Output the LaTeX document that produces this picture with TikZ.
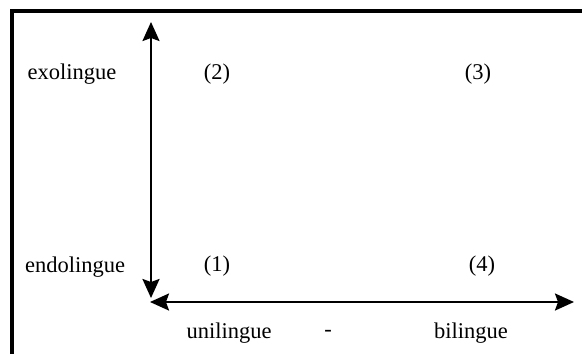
\documentclass[tikz,border=0pt]{standalone}
\usepackage{fontspec}
\setmainfont{Liberation Serif}
\usepackage{tikz}
\usetikzlibrary{arrows.meta}

\begin{document}
\begin{tikzpicture}[x=1pt, y=-1pt,
    axis/.style={line width=2.2pt, {Stealth[length=19pt, width=17pt, inset=3pt]}-{Stealth[length=19pt, width=17pt, inset=3pt]}},
    lbl/.style={font=\fontsize{22.5}{26}\selectfont, inner sep=0pt}]
  % page and frame (only the top and left edges show)
  \useasboundingbox (0,0) rectangle (582,354);
  \draw[line width=4pt] (12,354) -- (12,11) -- (582,11);
  % axes
  \coordinate (ytop) at (151,22);
  \coordinate (ybot) at (151,298);
  \coordinate (xleft) at (150,302);
  \coordinate (xright) at (574,302);
  \draw[axis] (ytop) -- (ybot);
  \draw[axis] (xleft) -- (xright);
  % row labels
  \node[lbl] (exo) at (72,74) {exolingue};
  \node[lbl] (endo) at (75,267) {endolingue};
  % cells
  \node[lbl] (c2) at (217,74) {(2)};
  \node[lbl] (c3) at (478,74) {(3)};
  \node[lbl] (c1) at (217,266) {(1)};
  \node[lbl] (c4) at (482,266) {(4)};
  % column labels
  \node[lbl] (uni) at (229,333) {unilingue};
  \node[lbl] (sep) at (328,333) {-};
  \node[lbl] (bi) at (471,333) {bilingue};
\end{tikzpicture}
\end{document}
